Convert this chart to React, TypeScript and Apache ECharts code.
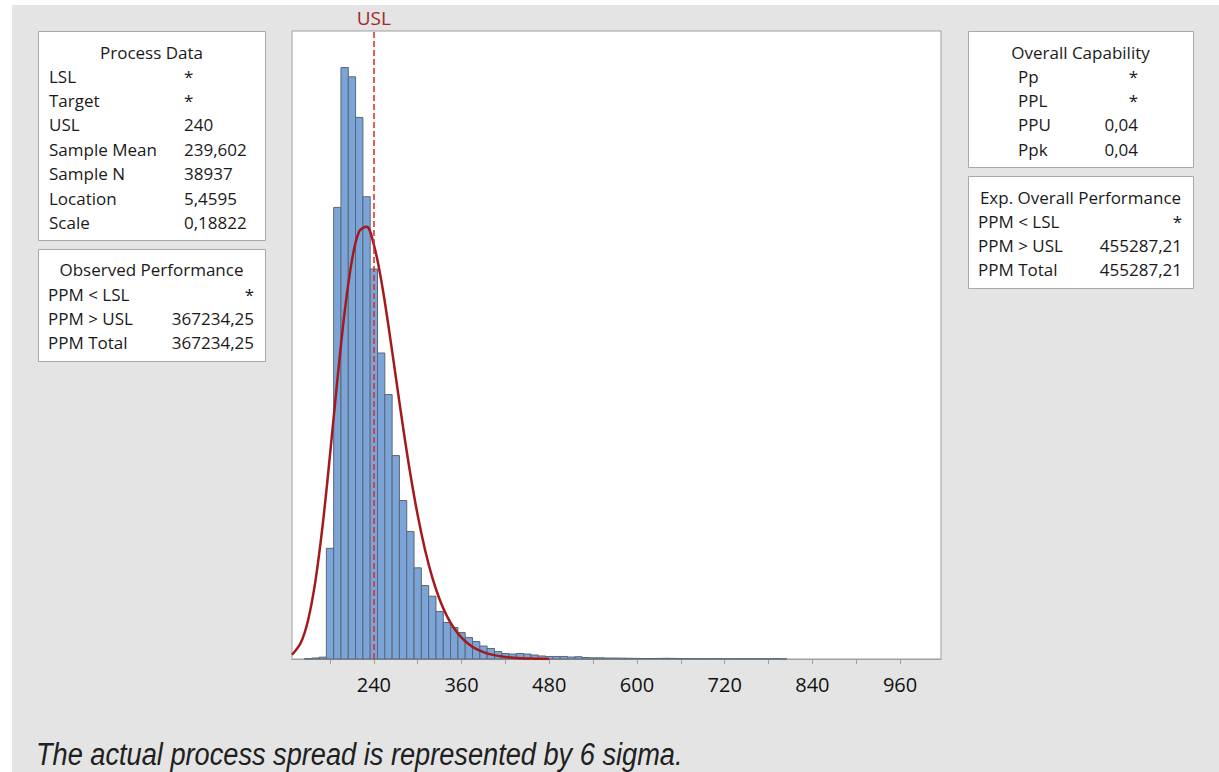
import React, { useEffect, useRef } from 'react';
import * as echarts from 'echarts';

// ---- data ----
const BIN_WIDTH = 10;
const binCenters = [
  150, 160, 170, 180, 190, 200, 210, 220, 230, 240, 250, 260, 270, 280, 290, 300, 310, 320, 330, 340,
  350, 360, 370, 380, 390, 400, 410, 420, 430, 440, 450, 460, 470, 480, 490, 500, 510, 520, 530, 540,
  550, 560, 570, 580, 590, 600, 610, 620, 630, 640, 650, 660, 670, 680, 690, 700, 710, 720, 730, 740,
  750, 760, 770, 780, 790, 800,
];
const binCounts = [
  3, 8, 15, 913, 3725, 4879, 4802, 4467, 3813, 3217, 2524, 2181, 1678, 1307, 1051, 752, 606, 518, 392, 301,
  260, 218, 177, 144, 107, 87, 62, 45, 41, 45, 41, 33, 25, 21, 21, 21, 16, 19, 12, 10,
  10, 8, 8, 7, 6, 5, 4, 4, 5, 6, 5, 3, 3, 3, 2, 2, 3, 2, 2, 1,
  1, 1, 1, 1, 3, 1,
];
const curveX = [128, 140, 150, 160, 170, 180, 190, 200, 210, 220, 230, 240, 250, 260, 270, 280, 290, 300, 310, 320, 330, 340, 350, 360, 370, 380, 390, 400, 420, 440, 460, 480];
const curveY = [35, 134, 320, 642, 1106, 1683, 2297, 2860, 3288, 3528, 3565, 3417, 3127, 2747, 2328, 1910, 1524, 1185, 901, 671, 491, 354, 251, 176, 122, 83, 57, 38, 17, 7, 3, 1];
const xTickValues = [180, 240, 300, 360, 420, 480, 540, 600, 660, 720, 780, 840, 900, 960];
const xLabelValues = [240, 360, 480, 600, 720, 840, 960];
const X_MIN = 128;
const X_MAX = 1016;
const Y_MAX = 5180;
const USL = 240;

const processDataTitle = 'Process Data';
const processDataLabels = ['LSL', 'Target', 'USL', 'Sample Mean', 'Sample N', 'Location', 'Scale'];
const processDataValues = ['*', '*', '240', '239,602', '38937', '5,4595', '0,18822'];
const observedTitle = 'Observed Performance';
const observedLabels = ['PPM < LSL', 'PPM > USL', 'PPM Total'];
const observedValues = ['*', '367234,25', '367234,25'];
const capabilityTitle = 'Overall Capability';
const capabilityLabels = ['Pp', 'PPL', 'PPU', 'Ppk'];
const capabilityValues = ['*', '*', '0,04', '0,04'];
const expectedTitle = 'Exp. Overall Performance';
const expectedLabels = ['PPM < LSL', 'PPM > USL', 'PPM Total'];
const expectedValues = ['*', '455287,21', '455287,21'];
const footnote = 'The actual process spread is represented by 6 sigma.';

const FONT = "'Open Sans', 'Noto Sans', sans-serif";
const FOOT_FONT = "'Liberation Sans', Arial, sans-serif";
const TEXT_COLOR = '#1a1a1a';
const ROW = 24.4;

function txt(x: number, y: number, s: string, align: string = 'left', extra: any = {}, el: any = {}) {
  return {
    type: 'text',
    x,
    y,
    silent: true,
    ...el,
    style: {
      text: s,
      fill: TEXT_COLOR,
      fontSize: 17,
      fontFamily: FONT,
      align,
      textAlign: align,
      verticalAlign: 'middle',
      textVerticalAlign: 'middle',
      ...extra,
    },
  };
}

function box(x: number, y: number, w: number, h: number) {
  return {
    type: 'rect',
    silent: true,
    shape: { x: x + 0.5, y: y + 0.5, width: w, height: h },
    style: { fill: '#ffffff', stroke: '#a9a9a9', lineWidth: 1 },
  };
}

function panel(
  x: number, y: number, w: number, h: number,
  title: string, titleY: number,
  labels: string[], values: string[],
  labelX: number, valueX: number, valueAlign: string, firstRowY: number,
) {
  const els: any[] = [box(x, y, w, h), txt(x + w / 2, titleY, title, 'center')];
  labels.forEach((l, i) => {
    els.push(txt(labelX, firstRowY + ROW * i, l, 'left'));
    els.push(txt(valueX, firstRowY + ROW * i, values[i], valueAlign));
  });
  return els;
}

export default function App() {
  const ref = useRef<HTMLDivElement>(null);
  useEffect(() => {
    if (!ref.current) return;
    const chart = echarts.init(ref.current, null, { renderer: 'svg' });
    const barData = binCenters.map((c, i) => [c, binCounts[i]]);
    const curveData = curveX.map((c, i) => [c, curveY[i]]);

    // condensed footnote: fit the reference's text width
    let footScale = 1;
    try {
      const ctx = document.createElement('canvas').getContext('2d');
      if (ctx) {
        ctx.font = `italic 31px ${FOOT_FONT}`;
        const w = ctx.measureText(footnote).width;
        if (w > 0) footScale = 647 / w;
      }
    } catch (e) {
      footScale = 0.82;
    }

    const graphics: any[] = [
      { type: 'rect', silent: true, shape: { x: 0, y: 0, width: 12, height: 772 }, style: { fill: '#ffffff' } },
      { type: 'rect', silent: true, shape: { x: 0, y: 0, width: 1219, height: 5 }, style: { fill: '#ffffff' } },
      ...panel(38, 31, 227, 209, processDataTitle, 52, processDataLabels, processDataValues, 49, 184, 'left', 76),
      ...panel(38, 249, 227, 112, observedTitle, 269, observedLabels, observedValues, 48, 254, 'right', 294),
      ...panel(968, 31, 225, 136, capabilityTitle, 52, capabilityLabels, capabilityValues, 1018, 1138, 'right', 76),
      ...panel(968, 176, 225, 112, expectedTitle, 197, expectedLabels, expectedValues, 978, 1182, 'right', 221),
      txt(36, 754, footnote, 'left', {
        fontSize: 31,
        fontStyle: 'italic',
        fontFamily: FOOT_FONT,
        fill: '#202020',
      }, { scaleX: footScale }),
    ];

    const option: any = {
      animation: false,
      backgroundColor: '#e4e4e4',
      grid: {
        left: 292,
        top: 31,
        right: 1219 - 941,
        bottom: 772 - 659,
        show: true,
        backgroundColor: '#ffffff',
        borderColor: '#9f9f9f',
        borderWidth: 1,
        containLabel: false,
        outerBoundsMode: 'none',
      },
      xAxis: {
        type: 'value',
        min: X_MIN,
        max: X_MAX,
        splitLine: { show: false },
        axisLine: { show: true, lineStyle: { color: '#9f9f9f', width: 1 } },
        axisTick: {
          show: true,
          inside: false,
          length: 5,
          customValues: xTickValues,
          lineStyle: { color: '#9f9f9f', width: 1 },
        },
        axisLabel: {
          customValues: xLabelValues,
          fontSize: 20,
          fontFamily: FONT,
          color: '#111111',
          margin: 15,
        },
      },
      yAxis: {
        type: 'value',
        min: 0,
        max: Y_MAX,
        show: false,
        splitLine: { show: false },
      },
      graphic: graphics,
      series: [
        {
          type: 'line',
          name: 'usl',
          z: 1,
          data: [[USL, 0], [USL, 0]],
          showSymbol: false,
          silent: true,
          lineStyle: { opacity: 0 },
          markLine: {
            silent: true,
            symbol: 'none',
            lineStyle: { color: '#e0262c', type: [6, 3], width: 1.5 },
            label: {
              show: true,
              position: 'end',
              formatter: 'USL',
              color: '#a3262b',
              fontSize: 19,
              fontFamily: FONT,
              distance: 4,
            },
            data: [{ xAxis: USL }],
          },
        },
        {
          type: 'custom',
          name: 'histogram',
          z: 2,
          silent: true,
          data: barData,
          encode: { x: 0, y: 1 },
          renderItem: (params: any, api: any) => {
            const c = api.value(0);
            const v = api.value(1);
            if (!v) return null;
            const p0 = api.coord([c - BIN_WIDTH / 2, v]);
            const p1 = api.coord([c + BIN_WIDTH / 2, 0]);
            return {
              type: 'rect',
              shape: { x: p0[0], y: p0[1], width: p1[0] - p0[0], height: p1[1] - p0[1] },
              style: { fill: '#7ba4d9', stroke: '#5b6773', lineWidth: 1 },
            };
          },
        },
        {
          type: 'line',
          name: 'lognormal fit',
          z: 3,
          silent: true,
          data: curveData,
          smooth: 0.35,
          showSymbol: false,
          lineStyle: { color: '#a3191c', width: 2.5 },
        },
      ],
    };
    chart.setOption(option);
    return () => chart.dispose();
  }, []);
  return <div ref={ref} style={{ position: 'fixed', left: 0, top: 0, width: 1219, height: 772 }} />;
}
